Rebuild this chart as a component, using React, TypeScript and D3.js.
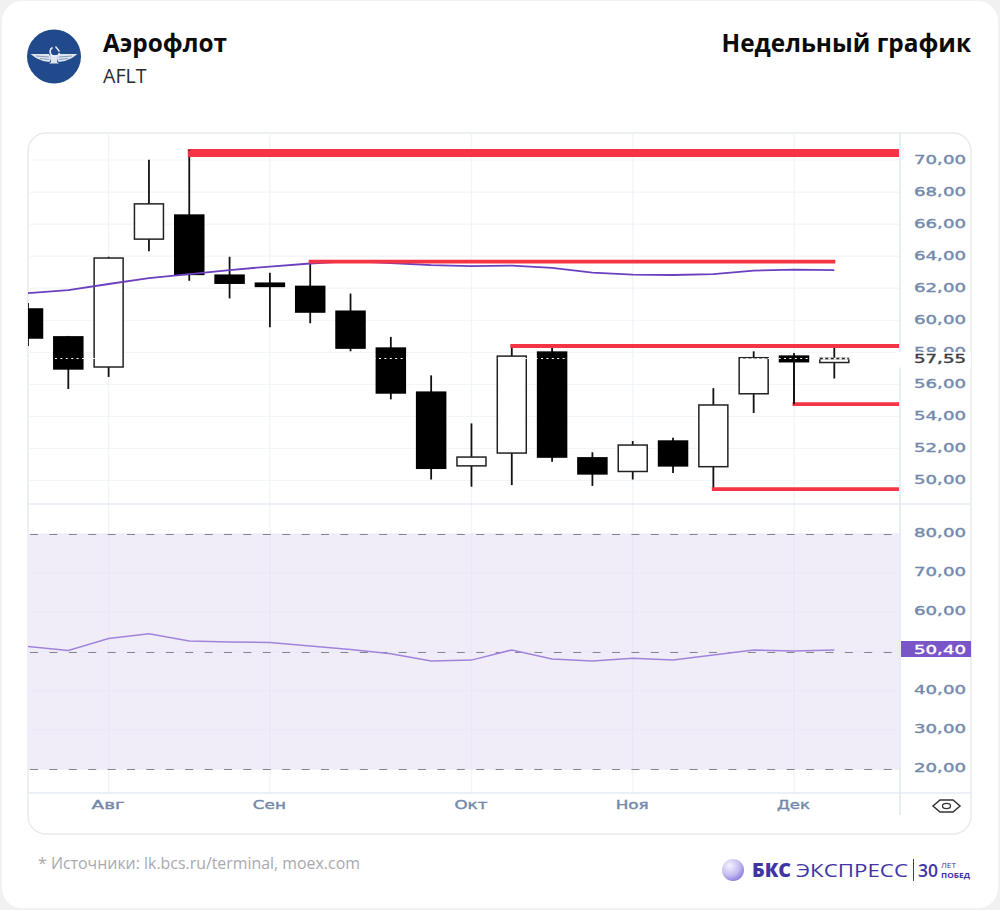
import React from "react";
import * as d3 from "d3";

const opens = [60.64, 58.9, 57.02, 65.0, 66.5, 62.75, 62.25, 62.05, 60.5, 58.2, 55.45, 50.85, 51.65, 57.95, 51.35, 50.5, 52.4, 50.8, 55.35, 57.7, 57.3];
const closes = [58.83, 56.9, 63.82, 67.2, 62.8, 62.25, 62.05, 60.45, 58.2, 55.4, 50.7, 51.4, 57.7, 51.4, 50.35, 52.15, 50.85, 54.65, 57.6, 57.35, 57.55];
const highs = [61.02, 58.96, 63.9, 69.95, 70.55, 63.9, 62.9, 63.7, 61.6, 58.9, 56.5, 53.5, 58.35, 58.35, 51.7, 52.4, 52.6, 55.7, 58.0, 57.9, 58.3];
const lows = [58.33, 55.65, 56.4, 64.25, 62.4, 61.3, 59.5, 59.75, 58.0, 55.0, 50.0, 49.55, 49.65, 51.1, 49.6, 50.0, 50.4, 49.35, 54.15, 54.7, 56.3];
const maValues = [61.63, 61.82, 62.2, 62.57, 62.82, 63.07, 63.29, 63.48, 63.63, 63.51, 63.38, 63.32, 63.35, 63.2, 62.91, 62.79, 62.76, 62.82, 63.04, 63.1, 63.07];
const rsiValues = [51.3, 50.25, 53.3, 54.5, 52.7, 52.4, 52.3, 51.4, 50.5, 49.4, 47.6, 47.8, 50.4, 48.1, 47.6, 48.3, 47.8, 49.1, 50.4, 50.1, 50.4];
const levelValues = [70.37, 63.6, 58.33, 54.7, 49.4];
const levelStarts = [4, 7, 12, 19, 17];
const levelToAxis = [true, false, true, true, true];
const priceTicks = [70, 68, 66, 64, 62, 60, 58, 56, 54, 52, 50];
const rsiTicks = [80, 70, 60, 50, 40, 30, 20];
const rsiBands = [80, 50, 20];
const monthLabels = ["Авг", "Сен", "Окт", "Ноя", "Дек"];
const monthIndex = [2, 6, 11, 15, 19];
const lastPrice = 57.55;
const lastRsi = 50.4;

const fmt = (v: number) => v.toFixed(2).replace(".", ",");

const L = 28, R = 971, AX = 900, TOP = 133, BOT = 834;
const x = d3.scaleLinear().domain([0, 20]).range([28, 834.3]);
const y = d3.scaleLinear().domain([50, 70]).range([479.5, 159]);
const r = d3.scaleLinear().domain([20, 80]).range([769, 534]);
const axisFont = "'DejaVu Sans', sans-serif";
const titleFont = "'Open Sans', sans-serif";
const axisColor = "#7389ab";
const grid = "#f2f5f9";
const gridBand = "#ebe8f5";
const border = "#e8ebef";
const brand = "#3f35a5";

function AxisText({ px, py, w, h, children, fill = axisColor, anchor = "start" }: any) {
  return (
    <text x={px} y={py} fontFamily={axisFont} fontSize={h} fontWeight={400} fill={fill} stroke={fill} strokeWidth={0.4}
      textAnchor={anchor} textLength={w} lengthAdjust="spacingAndGlyphs">{children}</text>
  );
}

export default function App() {
  const idx = d3.range(opens.length);
  const maLine = d3.line<number>().x((i) => x(i)).y((i) => y(maValues[i]));
  const rsiLine = d3.line<number>().x((i) => x(i)).y((i) => r(rsiValues[i]));
  const bw = 29;
  return (
    <svg width={1000} height={910} viewBox="0 0 1000 910"
      style={{ position: "absolute", left: 0, top: 0, display: "block" }}>
      <defs>
        <clipPath id="plot"><rect x={L} y={TOP} width={AX - L} height={BOT - TOP} /></clipPath>
        <radialGradient id="ball" cx="0.35" cy="0.3" r="0.8">
          <stop offset="0" stopColor="#f4f2fd" />
          <stop offset="0.55" stopColor="#c5bdf0" />
          <stop offset="1" stopColor="#7f72dd" />
        </radialGradient>
      </defs>
      <rect width={1000} height={910} fill="#f1f1f2" />
      <rect x={2} y={1} width={996} height={907} rx={20} fill="#ffffff" />

      {/* header */}
      <circle cx={54} cy={56.5} r={27} fill="#204a8b" />
      <g fill="#dfe5ef">
        <path d="M30.5 54 L49 54 L51 58 L49.5 62 L43 61 L36 58 Z" />
        <path d="M77.5 54 L59 54 L57 58 L58.5 62 L65 61 L72 58 Z" />
        <path d="M50 55 L58 55 L57 62 L59 63.5 L49 63.5 L51 62 Z" />
      </g>
      <g stroke="#204a8b" strokeWidth={0.5}>
        <line x1={36} y1={56} x2={49} y2={57} />
        <line x1={40} y1={58.5} x2={49} y2={59.5} />
        <line x1={72} y1={56} x2={59} y2={57} />
        <line x1={68} y1={58.5} x2={59} y2={59.5} />
      </g>
      <path d="M52.5 47.5 A4.8 4.8 0 1 0 59.5 53" fill="none" stroke="#e9eef6" strokeWidth={1.6} />
      <path d="M55.5 46.5 L59.5 51.5" stroke="#e9eef6" strokeWidth={1.4} />
      <text x={103} y={51.5} fontFamily={titleFont} fontWeight={700} fontSize={24.4} fill="#0b0b0b">Аэрофлот</text>
      <text x={103} y={83} fontFamily={titleFont} fontSize={19.6} fill="#2b2b2b">AFLT</text>
      <text x={971} y={51.5} textAnchor="end" fontFamily={titleFont} fontWeight={700} fontSize={24.4} fill="#0b0b0b">Недельный график</text>

      {/* panel */}
      <rect x={L} y={TOP} width={R - L} height={BOT - TOP} rx={18} fill="#fff" stroke={border} strokeWidth={1.5} />

      {/* rsi band */}
      <rect x={L} y={r(80)} width={AX - L} height={r(20) - r(80)} fill="#f0edf8" />

      {/* grid */}
      {monthIndex.map((m) => (
        <g key={m}>
          <line x1={x(m)} x2={x(m)} y1={TOP} y2={r(80)} stroke={grid} strokeWidth={1.5} />
          <line x1={x(m)} x2={x(m)} y1={r(80)} y2={r(20)} stroke={gridBand} strokeWidth={1.5} />
          <line x1={x(m)} x2={x(m)} y1={r(20)} y2={793} stroke={grid} strokeWidth={1.5} />
        </g>
      ))}
      {priceTicks.map((t) => (
        <line key={t} x1={L} x2={AX} y1={y(t) + 1} y2={y(t) + 1} stroke={grid} strokeWidth={1.2} />
      ))}
      {rsiTicks.map((t) => (
        <line key={t} x1={L} x2={AX} y1={r(t)} y2={r(t)} stroke={gridBand} strokeWidth={1} />
      ))}
      <line x1={L} x2={R} y1={504} y2={504} stroke="#e6ecf4" strokeWidth={1.5} />
      <line x1={L} x2={R} y1={793} y2={793} stroke="#e6ecf4" strokeWidth={1.5} />
      <line x1={AX} x2={AX} y1={TOP} y2={815} stroke="#dfe8f3" strokeWidth={1.5} />

      {/* rsi */}
      {rsiBands.map((b) => (
        <line key={b} x1={L + 2} x2={AX} y1={Math.round(r(b)) + 0.5} y2={Math.round(r(b)) + 0.5}
          stroke="#85858f" strokeWidth={1.2} strokeDasharray="8 11.4" />
      ))}
      <path d={rsiLine(idx) ?? ""} fill="none" stroke="#a183dc" strokeWidth={1.5} clipPath="url(#plot)" />

      {/* candles */}
      <g clipPath="url(#plot)">
        {idx.map((i) => {
          const up = closes[i] > opens[i];
          const top = y(Math.max(opens[i], closes[i]));
          const bot = y(Math.min(opens[i], closes[i]));
          return (
            <g key={i}>
              <line x1={x(i)} x2={x(i)} y1={y(highs[i])} y2={y(lows[i])} stroke="#111" strokeWidth={1.8} />
              <rect x={x(i) - bw / 2} y={top} width={bw} height={bot - top}
                fill={up ? "#fff" : "#000"} stroke={up ? "#222" : "#000"} strokeWidth={1.5} />
            </g>
          );
        })}
        {/* last-price line: white, so it only shows across dark marks */}
        <line x1={L} x2={AX} y1={y(lastPrice)} y2={y(lastPrice)} stroke="#fff" strokeWidth={1} strokeDasharray="2 3.4" />
        <line x1={x(20) - bw / 2 - 1} x2={x(20) + bw / 2 + 1} y1={y(lastPrice)} y2={y(lastPrice)} stroke="#fff" strokeWidth={1.6} />
        <line x1={x(20) - bw / 2} x2={x(20) + bw / 2} y1={y(lastPrice)} y2={y(lastPrice)}
          stroke="#222" strokeWidth={1.4} strokeDasharray="3 2.5" />
        <path d={maLine(idx) ?? ""} fill="none" stroke="#6b3fc0" strokeWidth={1.8} />
        {levelValues.map((v, i) => (
          <line key={i} x1={x(levelStarts[i]) - 1.5} x2={levelToAxis[i] ? AX - 1 : x(20) + 1} y1={y(v)} y2={y(v)}
            stroke="#f53445" strokeWidth={i === 0 ? 8 : 3.8} />
        ))}
        <line x1={x(4)} x2={x(4)} y1={y(highs[4])} y2={y(lows[4]) - 130} stroke="#111" strokeWidth={1.8} />
        <line x1={x(19)} x2={x(19)} y1={y(lastPrice)} y2={y(lows[19])} stroke="#111" strokeWidth={1.8} />
      </g>

      {/* price axis labels */}
      {priceTicks.map((t) => (
        <AxisText key={t} px={914} py={y(t) + 4.5} w={52} h={13}>{fmt(t)}</AxisText>
      ))}
      <rect x={896} y={352} width={75} height={15.5} fill="#fff" />
      <AxisText px={914} py={363} w={52} h={13} fill="#3a3a3f">{fmt(lastPrice)}</AxisText>

      {/* rsi labels */}
      {rsiTicks.filter((t) => t !== 50).map((t) => (
        <AxisText key={t} px={914} py={r(t) + 3} w={52} h={13}>{fmt(t)}</AxisText>
      ))}
      <rect x={901} y={641} width={70} height={16} fill="#7a55c7" />
      <AxisText px={914} py={653.5} w={52} h={13} fill="#fff">{fmt(lastRsi)}</AxisText>

      {/* time labels */}
      {monthIndex.map((m, i) => (
        <AxisText key={m} px={x(m) - 0.5} py={809} w={33} h={12.5} anchor="middle">{monthLabels[i]}</AxisText>
      ))}

      {/* eye icon */}
      <path d="M933 806 L940 800 L953 800 L960 806 L953 812 L940 812 Z" fill="none" stroke="#333" strokeWidth={1.5} />
      <ellipse cx={946.5} cy={806} rx={4} ry={2.6} fill="none" stroke="#333" strokeWidth={1.3} />

      {/* footer */}
      <text x={38} y={869} fontFamily={titleFont} fontSize={15.9} fill="#a9a9ad">* Источники: lk.bcs.ru/terminal, moex.com</text>
      <circle cx={733} cy={870} r={11} fill="url(#ball)" />
      <text x={752} y={877} fontFamily={titleFont} fontWeight={800} fontSize={19} fill={brand}
        textLength={39} lengthAdjust="spacingAndGlyphs">БКС</text>
      <text x={796} y={877} fontFamily={titleFont} fontWeight={400} fontSize={19} fill={brand}
        textLength={112} lengthAdjust="spacingAndGlyphs">ЭКСПРЕСС</text>
      <line x1={913.5} x2={913.5} y1={859} y2={881} stroke={brand} strokeWidth={1} />
      <text x={918} y={877} fontFamily={titleFont} fontWeight={600} fontSize={18.5} fill={brand}
        textLength={20} lengthAdjust="spacingAndGlyphs">30</text>
      <text x={941} y={868} fontFamily={titleFont} fontWeight={400} fontSize={7} fill={brand}
        textLength={15} lengthAdjust="spacingAndGlyphs">ЛЕТ</text>
      <text x={941} y={877.5} fontFamily={titleFont} fontWeight={700} fontSize={7} fill={brand}
        textLength={29} lengthAdjust="spacingAndGlyphs">ПОБЕД</text>
    </svg>
  );
}
